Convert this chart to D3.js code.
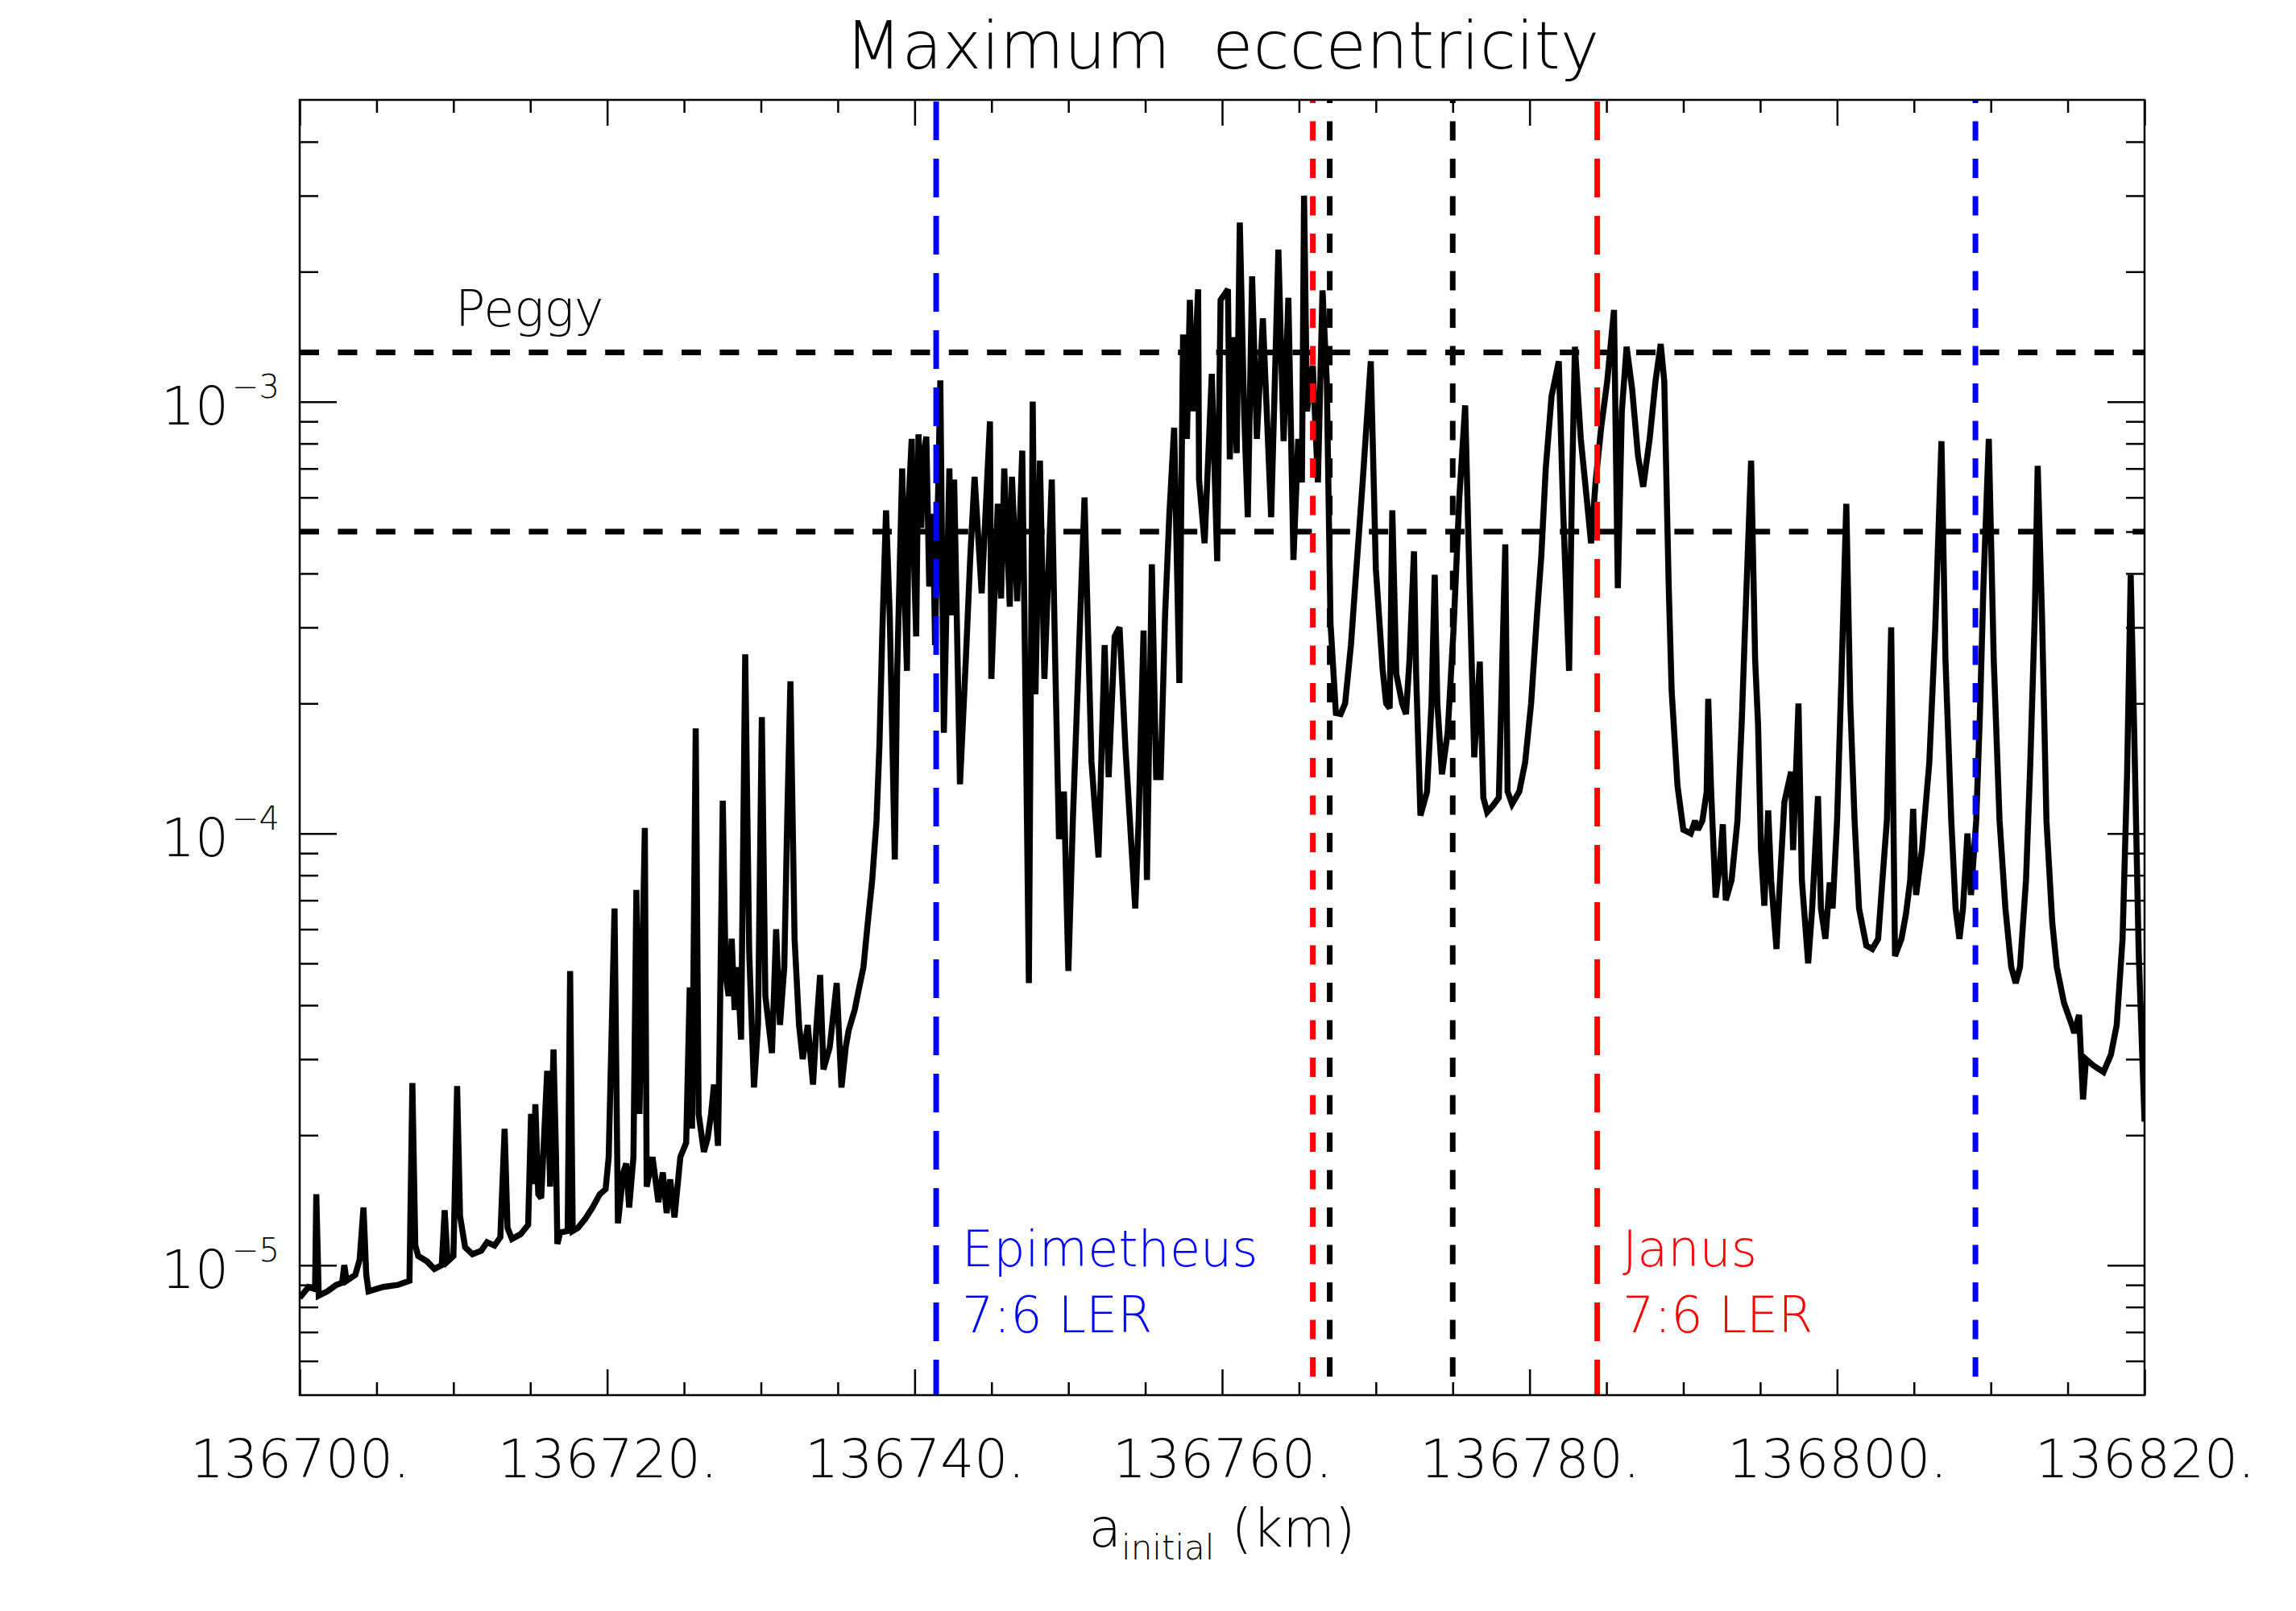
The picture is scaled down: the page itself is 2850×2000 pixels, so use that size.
<!DOCTYPE html>
<html>
<head>
<meta charset="utf-8">
<script src="https://cdn.jsdelivr.net/npm/d3@7"></script>
<style>
body { margin: 0; background: #fff; }
</style>
</head>
<body>
<div id="chart"></div>
<script>
// initial semi-major axis (km) and maximum eccentricity
var aInitial = [
  136700.00, 136700.57, 136701.00, 136701.08, 136701.24, 136701.81, 136702.38, 136702.76, 136702.90, 136703.05,
  136703.62, 136703.90, 136704.15, 136704.33, 136704.48, 136705.43, 136706.38, 136707.14, 136707.33, 136707.52,
  136707.71, 136708.29, 136708.76, 136709.24, 136709.43, 136709.62, 136710.00, 136710.24, 136710.43, 136710.76,
  136711.24, 136711.81, 136712.19, 136712.67, 136713.05, 136713.33, 136713.52, 136713.81, 136714.38, 136714.86,
  136715.05, 136715.19, 136715.33, 136715.52, 136715.71, 136716.10, 136716.29, 136716.51, 136716.67, 136716.76,
  136716.95, 136717.43, 136717.59, 136717.76, 136718.10, 136718.57, 136719.05, 136719.52, 136719.90, 136720.10,
  136720.48, 136720.70, 136721.05, 136721.24, 136721.43, 136721.71, 136721.90, 136722.10, 136722.45, 136722.57,
  136722.95, 136723.33, 136723.62, 136723.87, 136724.10, 136724.38, 136724.76, 136725.14, 136725.37, 136725.52,
  136725.76, 136725.95, 136726.29, 136726.54, 136726.76, 136726.95, 136727.21, 136727.33, 136727.52, 136727.71,
  136727.90, 136728.10, 136728.29, 136728.48, 136728.71, 136728.98, 136729.24, 136729.55, 136729.81, 136730.06,
  136730.29, 136730.72, 136730.99, 136731.24, 136731.52, 136731.71, 136731.92, 136732.19, 136732.48, 136732.72,
  136733.05, 136733.39, 136733.62, 136733.85, 136734.07, 136734.48, 136734.93, 136735.24, 136735.52, 136735.71,
  136736.10, 136736.34, 136736.67, 136736.95, 136737.24, 136737.52, 136737.71, 136737.90, 136738.14, 136738.38,
  136738.71, 136738.86, 136739.19, 136739.33, 136739.50, 136739.62, 136739.81, 136739.95, 136740.10, 136740.25,
  136740.43, 136740.57, 136740.76, 136740.95, 136741.19, 136741.33, 136741.67, 136741.90, 136742.26, 136742.43,
  136742.57, 136742.95, 136743.33, 136743.62, 136743.90, 136744.36, 136744.90, 136744.99, 136745.41, 136745.62,
  136745.83, 136746.19, 136746.33, 136746.67, 136747.00, 136747.24, 136747.43, 136747.68, 136747.86, 136748.15,
  136748.44, 136748.92, 136749.14, 136749.39, 136749.71, 136750.00, 136750.29, 136750.67, 136751.05, 136751.50,
  136751.96, 136752.36, 136752.62, 136753.01, 136753.33, 136753.71, 136754.35, 136754.57, 136754.89, 136755.11,
  136755.43, 136755.71, 136756.00, 136756.29, 136756.57, 136756.88, 136757.22, 136757.46, 136757.71, 136757.90,
  136758.10, 136758.44, 136758.50, 136758.86, 136759.33, 136759.68, 136759.90, 136760.38, 136760.50, 136760.73,
  136760.95, 136761.15, 136761.43, 136761.67, 136761.95, 136762.26, 136762.65, 136763.19, 136763.66, 136764.00,
  136764.31, 136764.64, 136764.95, 136765.19, 136765.33, 136765.52, 136765.90, 136766.23, 136766.53, 136766.81,
  136767.05, 136767.40, 136767.71, 136768.00, 136768.38, 136768.69, 136769.14, 136769.67, 136770.00, 136770.44,
  136770.67, 136770.90, 136771.07, 136771.33, 136771.71, 136771.96, 136772.19, 136772.48, 136772.62, 136772.90,
  136773.33, 136773.62, 136773.83, 136774.00, 136774.30, 136774.67, 136775.05, 136775.43, 136775.81, 136776.10,
  136776.40, 136776.76, 136776.99, 136777.24, 136777.62, 136778.00, 136778.42, 136778.57, 136778.86, 136779.33,
  136779.71, 136780.10, 136780.48, 136780.76, 136781.05, 136781.43, 136781.90, 136782.19, 136782.57, 136782.76,
  136782.95, 136783.33, 136783.71, 136784.00, 136784.29, 136784.67, 136785.05, 136785.49, 136785.74, 136786.00,
  136786.31, 136786.67, 136787.05, 136787.39, 136787.81, 136788.19, 136788.53, 136788.76, 136789.05, 136789.24,
  136789.62, 136790.00, 136790.48, 136790.76, 136790.95, 136791.24, 136791.52, 136791.62, 136791.81, 136792.10,
  136792.38, 136792.57, 136792.76, 136793.14, 136793.52, 136793.81, 136794.00, 136794.41, 136794.67, 136794.86,
  136795.05, 136795.27, 136795.52, 136795.71, 136796.06, 136796.29, 136796.57, 136797.01, 136797.14, 136797.49,
  136797.71, 136798.12, 136798.38, 136798.76, 136798.95, 136799.24, 136799.52, 136799.71, 136800.00, 136800.29,
  136800.60, 136800.86, 136801.14, 136801.43, 136801.90, 136802.29, 136802.67, 136802.95, 136803.24, 136803.52,
  136803.77, 136804.19, 136804.48, 136804.76, 136804.95, 136805.14, 136805.52, 136806.00, 136806.38, 136806.79,
  136807.05, 136807.43, 136807.71, 136807.96, 136808.19, 136808.48, 136808.71, 136809.05, 136809.29, 136809.52,
  136809.87, 136810.19, 136810.57, 136810.95, 136811.33, 136811.62, 136811.90, 136812.29, 136812.57, 136812.86,
  136813.05, 136813.33, 136813.62, 136814.00, 136814.29, 136814.76, 136815.27, 136815.43, 136815.74, 136816.00,
  136816.19, 136816.67, 136817.33, 136817.81, 136818.19, 136818.57, 136818.86, 136819.10, 136819.33, 136819.62,
  136820.00
];

var eMax = [
  8.4e-6, 8.9e-6, 8.8e-6, 1.46e-5, 8.5e-6, 8.7e-6, 9.0e-6, 9.1e-6, 1.0e-5, 9.2e-6,
  9.5e-6, 1.03e-5, 1.36e-5, 9.5e-6, 8.7e-6, 8.9e-6, 9.0e-6, 9.2e-6, 2.64e-5, 1.11e-5,
  1.05e-5, 1.02e-5, 9.8e-6, 1.0e-5, 1.34e-5, 1.02e-5, 1.05e-5, 2.6e-5, 1.3e-5, 1.1e-5,
  1.06e-5, 1.08e-5, 1.13e-5, 1.11e-5, 1.16e-5, 2.07e-5, 1.22e-5, 1.15e-5, 1.18e-5, 1.24e-5,
  2.24e-5, 1.54e-5, 2.36e-5, 1.46e-5, 1.43e-5, 2.82e-5, 1.52e-5, 3.16e-5, 1.81e-5, 1.12e-5,
  1.19e-5, 1.2e-5, 4.8e-5, 1.2e-5, 1.22e-5, 1.28e-5, 1.36e-5, 1.46e-5, 1.5e-5, 1.78e-5,
  6.7e-5, 1.25e-5, 1.64e-5, 1.72e-5, 1.36e-5, 1.78e-5, 7.4e-5, 2.24e-5, 1.03e-4, 1.52e-5,
  1.78e-5, 1.4e-5, 1.64e-5, 1.32e-5, 1.58e-5, 1.29e-5, 1.78e-5, 1.92e-5, 4.4e-5, 2.07e-5,
  1.75e-4, 2.24e-5, 1.83e-5, 1.97e-5, 2.24e-5, 2.62e-5, 1.89e-5, 3.6e-5, 1.19e-4, 4.7e-5,
  4.2e-5, 5.7e-5, 3.9e-5, 4.9e-5, 3.33e-5, 2.6e-4, 5.3e-5, 2.58e-5, 3.6e-5, 1.86e-4,
  4.2e-5, 3.1e-5, 6.0e-5, 3.6e-5, 4.9e-5, 1.07e-4, 2.25e-4, 5.7e-5, 3.6e-5, 3.0e-5,
  3.6e-5, 2.62e-5, 3.6e-5, 4.7e-5, 2.84e-5, 3.2e-5, 4.5e-5, 2.58e-5, 3.2e-5, 3.5e-5,
  3.9e-5, 4.3e-5, 4.9e-5, 6.2e-5, 7.8e-5, 1.07e-4, 1.6e-4, 2.95e-4, 5.6e-4, 3.2e-4,
  8.7e-5, 2.34e-4, 7.0e-4, 3.73e-4, 2.38e-4, 6.0e-4, 8.2e-4, 4.37e-4, 2.86e-4, 8.4e-4,
  5.1e-4, 7.5e-4, 8.3e-4, 3.73e-4, 5.5e-4, 2.73e-4, 1.12e-3, 1.71e-4, 7.0e-4, 3.2e-4,
  6.6e-4, 1.3e-4, 2.53e-4, 4.37e-4, 6.7e-4, 3.6e-4, 9.0e-4, 2.28e-4, 5.8e-4, 3.5e-4,
  7.0e-4, 3.35e-4, 6.7e-4, 3.45e-4, 7.7e-4, 1.71e-4, 4.5e-5, 1.0e-3, 2.1e-4, 7.3e-4,
  2.28e-4, 6.6e-4, 2.53e-4, 9.7e-5, 1.25e-4, 4.8e-5, 1.07e-4, 2.53e-4, 6.0e-4, 1.47e-4,
  8.8e-5, 2.73e-4, 1.35e-4, 2.86e-4, 3.0e-4, 1.58e-4, 6.7e-5, 1.07e-4, 2.95e-4, 7.8e-5,
  4.2e-4, 1.35e-4, 1.35e-4, 3.2e-4, 5.5e-4, 8.7e-4, 2.23e-4, 1.43e-3, 8.2e-4, 1.72e-3,
  9.5e-4, 1.82e-3, 6.6e-4, 4.7e-4, 1.16e-3, 4.27e-4, 1.72e-3, 1.82e-3, 7.35e-4, 1.41e-3,
  7.6e-4, 2.6e-3, 9.5e-4, 5.4e-4, 1.95e-3, 8.2e-4, 1.56e-3, 5.4e-4, 2.25e-3, 8.1e-4,
  1.74e-3, 4.3e-4, 8.2e-4, 6.5e-4, 3.0e-3, 9.5e-4, 1.21e-3, 6.5e-4, 1.81e-3, 1.11e-3,
  3.07e-4, 1.9e-4, 1.89e-4, 2.0e-4, 2.73e-4, 3.9e-4, 6.5e-4, 1.24e-3, 4.1e-4, 2.4e-4,
  2.0e-4, 1.95e-4, 5.6e-4, 2.34e-4, 2.0e-4, 1.89e-4, 2.53e-4, 4.5e-4, 2.34e-4, 1.1e-4,
  1.25e-4, 2.0e-4, 3.97e-4, 2.0e-4, 1.37e-4, 1.71e-4, 2.95e-4, 6.0e-4, 9.8e-4, 3.73e-4,
  1.5e-4, 2.5e-4, 1.21e-4, 1.12e-4, 1.16e-4, 1.21e-4, 4.67e-4, 1.25e-4, 1.17e-4, 1.25e-4,
  1.46e-4, 2.0e-4, 3.2e-4, 4.37e-4, 7.0e-4, 1.03e-3, 1.24e-3, 5.5e-4, 2.38e-4, 6.5e-4,
  1.34e-3, 8.2e-4, 6.0e-4, 4.7e-4, 6.5e-4, 8.8e-4, 1.115e-3, 1.63e-3, 3.7e-4, 9.5e-4,
  1.34e-3, 1.07e-3, 7.5e-4, 6.35e-4, 8.2e-4, 1.115e-3, 1.36e-3, 1.115e-3, 3.73e-4, 2.14e-4,
  1.29e-4, 1.02e-4, 1.0e-4, 1.07e-4, 1.02e-4, 1.07e-4, 1.25e-4, 2.05e-4, 1.25e-4, 7.1e-5,
  8.5e-5, 1.05e-4, 7.0e-5, 7.8e-5, 1.07e-4, 1.85e-4, 2.9e-4, 7.3e-4, 2.53e-4, 1.79e-4,
  9.15e-5, 6.8e-5, 1.13e-4, 7.8e-5, 5.4e-5, 7.8e-5, 1.18e-4, 1.39e-4, 9.15e-5, 2.0e-4,
  7.8e-5, 5.0e-5, 6.7e-5, 1.22e-4, 6.7e-5, 5.7e-5, 7.7e-5, 6.7e-5, 1.07e-4, 2.34e-4,
  5.8e-4, 2.0e-4, 1.07e-4, 6.7e-5, 5.5e-5, 5.4e-5, 5.7e-5, 7.8e-5, 1.07e-4, 3.0e-4,
  5.2e-5, 5.7e-5, 6.5e-5, 7.8e-5, 1.14e-4, 7.2e-5, 9.15e-5, 1.46e-4, 2.95e-4, 8.1e-4,
  2.53e-4, 1.07e-4, 6.7e-5, 5.7e-5, 6.7e-5, 1.0e-4, 7.2e-5, 1.07e-4, 1.88e-4, 3.73e-4,
  8.2e-4, 2.53e-4, 1.07e-4, 6.7e-5, 4.9e-5, 4.5e-5, 4.9e-5, 7.8e-5, 1.46e-4, 3.2e-4,
  7.1e-4, 3.2e-4, 1.07e-4, 6.2e-5, 4.9e-5, 4.05e-5, 3.6e-5, 3.45e-5, 3.8e-5, 2.42e-5,
  3.0e-5, 2.9e-5, 2.8e-5, 3.07e-5, 3.6e-5, 5.7e-5, 1.35e-4, 3.97e-4, 1.71e-4, 5.3e-5,
  2.15e-5
];

var xMajor = [136700, 136720, 136740, 136760, 136780, 136800, 136820];
var yMajor = [1e-5, 1e-4, 1e-3];
var yExp = ["\u22125", "\u22124", "\u22123"];

// Peggy band and resonance locations
var peggyE = [1.3e-3, 5e-4];
var resA = [136741.4, 136765.9, 136767.0, 136775.0, 136784.4, 136809.0];
var resKind = ["epiL", "janS", "blkS", "blkS", "janL", "epiS"];

var margin = {top: 124, right: 188, bottom: 268, left: 372},
    width = 2850 - margin.left - margin.right,
    height = 2000 - margin.top - margin.bottom;

var font = "DejaVu Sans";
var fw = 200;

var x = d3.scaleLinear().domain([136700, 136820]).range([0, width]);
var y = d3.scaleLog().domain([5e-6, 5e-3]).range([height, 0]);

var svg = d3.select("#chart").append("svg")
    .attr("width", 2850)
    .attr("height", 2000)
    .style("background", "#fff");

var g = svg.append("g")
    .attr("transform", "translate(" + margin.left + "," + margin.top + ")");

g.append("clipPath").attr("id", "clip")
  .append("rect").attr("width", width).attr("height", height);

// data curve
var line = d3.line()
    .x(function(d, i) { return x(aInitial[i]); })
    .y(function(d) { return y(d); });

g.append("path")
    .datum(eMax)
    .attr("clip-path", "url(#clip)")
    .attr("fill", "none")
    .attr("stroke", "#000")
    .attr("stroke-width", 7.5)
    .attr("stroke-linejoin", "miter")
    .attr("stroke-miterlimit", 2.5)
    .attr("d", line);

// Peggy limits
g.selectAll(".peggy")
    .data(peggyE)
    .enter().append("line")
    .attr("class", "peggy")
    .attr("x1", 0).attr("x2", width)
    .attr("y1", function(d) { return y(d); })
    .attr("y2", function(d) { return y(d); })
    .attr("stroke", "#000")
    .attr("stroke-width", 7)
    .attr("stroke-dasharray", "24 23.4");

// resonance markers
var resColor = {epiL: "#0000ff", epiS: "#0000ff", janL: "#ff0000", janS: "#ff0000", blkS: "#000"};
g.selectAll(".res")
    .data(resA)
    .enter().append("line")
    .attr("class", "res")
    .attr("x1", function(d) { return x(d); })
    .attr("x2", function(d) { return x(d); })
    .attr("y1", 0).attr("y2", height)
    .attr("stroke", function(d, i) { return resColor[resKind[i]]; })
    .attr("stroke-width", 7)
    .attr("stroke-dasharray", function(d, i) { return resKind[i].slice(-1) == "L" ? "48 23" : "24 22.5"; })
    .attr("stroke-dashoffset", function(d, i) { return resKind[i].slice(-1) == "L" ? -2 : 20; });

// axes: ticks point inward on all four sides
var xMinor = d3.range(136705, 136820, 5).filter(function(v) { return v % 20 != 0; });
var yMinor = [];
[1e-6, 1e-5, 1e-4, 1e-3].forEach(function(p) {
    for (var k = 2; k <= 9; k++) {
        var v = k * p;
        if (v > 5.0001e-6 && v < 4.9999e-3) yMinor.push(v);
    }
});

function styleAxis(sel) {
    sel.select(".domain").remove();
    sel.selectAll("line").attr("stroke", "#000").attr("stroke-width", 2.5);
    sel.attr("font-family", font).attr("font-size", 66).attr("font-weight", fw);
    sel.selectAll("text").attr("fill", "#000");
}

g.append("g")
    .attr("transform", "translate(0," + height + ")")
    .call(d3.axisBottom(x).tickValues(xMajor).tickSize(-32).tickPadding(55)
          .tickFormat(function(d) { return d + "."; }))
    .call(styleAxis);
g.append("g")
    .attr("transform", "translate(0," + height + ")")
    .call(d3.axisBottom(x).tickValues(xMinor).tickSize(-16).tickFormat(""))
    .call(styleAxis);
g.append("g")
    .call(d3.axisTop(x).tickValues(xMajor).tickSize(-32).tickFormat(""))
    .call(styleAxis);
g.append("g")
    .call(d3.axisTop(x).tickValues(xMinor).tickSize(-16).tickFormat(""))
    .call(styleAxis);

var yAxisL = g.append("g")
    .call(d3.axisLeft(y).tickValues(yMajor).tickSize(-46).tickPadding(25).tickFormat(function() { return "10"; }))
    .call(styleAxis);
yAxisL.selectAll("text")
    .attr("dy", 28)
    .append("tspan")
    .attr("dy", -33)
    .attr("dx", 4)
    .attr("font-size", 40)
    .text(function(d, i) { return yExp[i]; });

g.append("g")
    .call(d3.axisLeft(y).tickValues(yMinor).tickSize(-23).tickFormat(""))
    .call(styleAxis);
g.append("g")
    .attr("transform", "translate(" + width + ",0)")
    .call(d3.axisRight(y).tickValues(yMajor).tickSize(-46).tickFormat(""))
    .call(styleAxis);
g.append("g")
    .attr("transform", "translate(" + width + ",0)")
    .call(d3.axisRight(y).tickValues(yMinor).tickSize(-23).tickFormat(""))
    .call(styleAxis);

g.append("rect")
    .attr("width", width)
    .attr("height", height)
    .attr("fill", "none")
    .attr("stroke", "#000")
    .attr("stroke-width", 2.5);

// labels
function label(txt, px, py, size, color, anchor) {
    return svg.append("text")
        .attr("x", px).attr("y", py)
        .attr("font-family", font)
        .attr("font-weight", fw)
        .attr("font-size", size)
        .attr("fill", color)
        .attr("text-anchor", anchor || "start")
        .style("white-space", "pre")
        .text(txt);
}

label("Maximum  eccentricity", margin.left + width / 2, 85, 82, "#000", "middle");
label("Peggy", 565, 405, 62, "#000");
label("Epimetheus", 1194, 1572, 62, "#0000ff");
label("7:6 LER", 1194, 1654, 62, "#0000ff");
label("Janus", 2014, 1572, 62, "#ff0000");
label("7:6 LER", 2014, 1654, 62, "#ff0000");

var xt = label("a", margin.left + width / 2, 1920, 66, "#000", "middle");
xt.append("tspan").attr("font-size", 42).attr("dy", 16).text("initial");
xt.append("tspan").attr("dy", -16).text(" (km)");
</script>
</body>
</html>
